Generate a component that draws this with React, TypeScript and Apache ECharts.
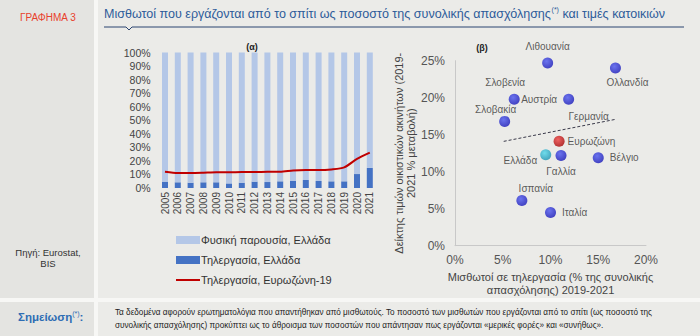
import React, { useEffect, useRef } from "react";
import * as echarts from "echarts";

const years = ["2005","2006","2007","2008","2009","2010","2011","2012","2013","2014","2015","2016","2017","2018","2019","2020","2021"];
const teleGreece = [4.7,4.2,3.9,4.2,4.2,3.4,3.9,4.7,4.4,4.9,5.4,5.9,5.2,4.9,4.9,10.3,14.8];
const physicalGreece = teleGreece.map((v) => +(100 - v).toFixed(1));
const teleEuro = [12.0,11.1,11.1,11.3,11.6,11.6,11.8,11.8,12.0,12.0,12.9,13.2,13.2,13.7,15.2,21.5,26.1];

const leftTicks = { min: 0, max: 100, interval: 10 };
const rightXTicks = { min: 0, max: 20, interval: 5 };
const rightYTicks = { min: 0, max: 25, interval: 5 };

// [telework %, house price change %, name, label position]
const countries: [number, number, string, string][] = [
  [9.7, 24.7, "Λιθουανία", "top"],
  [16.8, 24.0, "Ολλανδία", "bottom"],
  [6.2, 19.8, "Σλοβενία", "top"],
  [11.9, 19.8, "Αυστρία", "left"],
  [5.2, 16.8, "Σλοβακία", "top"],
  [15.0, 11.9, "Βέλγιο", "right"],
  [11.1, 12.2, "Γαλλία", "bottom"],
  [7.0, 6.1, "Ισπανία", "top"],
  [10.0, 4.5, "Ιταλία", "right"],
];
const hiddenLabel: [number, number, string][] = [[14.0, 17.5, "Γερμανία"]];
const eurozone: [number, number, string][] = [[10.9, 14.1, "Ευρωζώνη"]];
const greece: [number, number, string][] = [[9.5, 12.3, "Ελλάδα"]];
const trend: [number, number][] = [[5.1, 14.1], [16.9, 17.1]];

const FONT = "Liberation Sans, Arial, sans-serif";

const ball = (c1: string, c2: string) => ({
  type: "radial", x: 0.4, y: 0.35, r: 0.7,
  colorStops: [{ offset: 0, color: c1 }, { offset: 1, color: c2 }],
});

export default function App() {
  const ref = useRef<HTMLDivElement>(null);
  useEffect(() => {
    const chart = echarts.init(ref.current!, null, { renderer: "svg" });
    const lblOffset: Record<string, number[]> = {
      "Ολλανδία": [12, -2], "Σλοβενία": [-9, 0], "Σλοβακία": [-9, 5], "Ισπανία": [14, 4],
    };
    const option: any = {
      animation: false,
      backgroundColor: "transparent",
      textStyle: { fontFamily: FONT },
      graphic: [
        { type: "rect", shape: { x: 0, y: 0, width: 700, height: 336 }, style: { fill: "#f7f7f5" }, z: -10 },
        { type: "rect", shape: { x: 0, y: 0, width: 94, height: 298 }, style: { fill: "#e4e4e1" }, z: -9 },
        { type: "rect", shape: { x: 98, y: 0, width: 602, height: 298 }, style: { fill: "#ebebe8" }, z: -9 },
        { type: "rect", shape: { x: 0, y: 302, width: 94, height: 34 }, style: { fill: "#e4e4e1" }, z: -9 },
        { type: "rect", shape: { x: 98, y: 302, width: 602, height: 34 }, style: { fill: "#ebebe8" }, z: -9 },
        { type: "text", x: 20, y: 12, style: { text: "ΓΡΑΦΗΜΑ 3", fill: "#e8412c", font: "10px " + FONT } },
        {
          type: "text", x: 104, y: 5, scaleX: 0.93,
          style: {
            text: "{a|Μισθωτοί που εργάζονται από το σπίτι ως ποσοστό της συνολικής απασχόλησης}{s|(*)}{a| και τιμές κατοικιών}",
            rich: {
              a: { fontSize: 13.5, fontFamily: FONT, fill: "#2e5c9a", lineHeight: 17 },
              s: { fontSize: 7.5, fontFamily: FONT, fill: "#2e5c9a", verticalAlign: "top", lineHeight: 17 },
            },
          },
        },
        {
          type: "polyline",
          shape: { points: [[104, 27], [126, 27], [129, 30], [132, 27], [684, 27]] },
          style: { stroke: "#2b4470", lineWidth: 1, fill: null },
        },
        { type: "text", x: 252, y: 42, style: { text: "(α)", fill: "#222", font: "bold 9px " + FONT, textAlign: "center" } },
        { type: "text", x: 482, y: 43, style: { text: "(β)", fill: "#222", font: "bold 9px " + FONT, textAlign: "center" } },
        { type: "text", x: 48, y: 247, style: { text: "Πηγή: Eurostat,\nBIS", fill: "#333", font: "9.5px " + FONT, textAlign: "center", lineHeight: 11 } },
        {
          type: "text", x: 18, y: 310,
          style: {
            text: "{b|Σημείωση}{s|(*)}{b|:}",
            rich: {
              b: { fontSize: 11.5, fontWeight: "bold", fill: "#2e6db4", fontFamily: FONT, lineHeight: 14 },
              s: { fontSize: 7, fill: "#2e6db4", fontFamily: FONT, verticalAlign: "top", lineHeight: 14 },
            },
          },
        },
        {
          type: "text", x: 115, y: 305, scaleX: 0.88,
          style: {
            text: "Τα δεδομένα αφορούν ερωτηματολόγια που απαντήθηκαν από μισθωτούς. Το ποσοστό των μισθωτών που εργάζονται από το σπίτι (ως ποσοστό της\nσυνολικής απασχόλησης) προκύπτει ως το άθροισμα των ποσοστών που απάντησαν πως εργάζονται «μερικές φορές» και «συνήθως».",
            fill: "#222", font: "9.3px " + FONT, lineHeight: 13,
          },
        },
      ],
      legend: {
        orient: "vertical", left: 176, top: 233, padding: 0, itemWidth: 24, itemHeight: 8, itemGap: 6,
        textStyle: { fontSize: 11, color: "#333", fontFamily: FONT, lineHeight: 14, padding: [0, 0, 0, -4] },
        data: [
          { name: "Φυσική παρουσία, Ελλάδα", icon: "rect" },
          { name: "Τηλεργασία, Ελλάδα", icon: "rect" },
          { name: "Τηλεργασία, Ευρωζώνη-19", icon: "path://M0,0 L24,0 L24,2 L0,2 Z" },
        ],
      },
      grid: [
        { left: 158.6, top: 52.5, width: 217.6, height: 135.5 },
        { left: 455, top: 60.7, width: 191, height: 185 },
      ],
      xAxis: [
        {
          type: "category", gridIndex: 0, data: years,
          axisLine: { show: false }, axisTick: { show: false },
          axisLabel: { rotate: 90, fontSize: 10, color: "#444", margin: 4, interval: 0 },
        },
        {
          type: "value", gridIndex: 1, ...rightXTicks,
          axisLine: { show: true, lineStyle: { color: "#c8c8c8" } }, axisTick: { show: false },
          splitLine: { show: false },
          axisLabel: { formatter: "{value}%", fontSize: 12, color: "#555", margin: 8 },
          name: "Μισθωτοί σε τηλεργασία (% της συνολικής\nαπασχόλησης) 2019-2021",
          nameLocation: "middle", nameGap: 17,
          nameTextStyle: { fontSize: 11, color: "#444", lineHeight: 13 },
        },
      ],
      yAxis: [
        {
          type: "value", gridIndex: 0, ...leftTicks,
          axisLine: { show: false }, axisTick: { show: false }, splitLine: { show: false },
          axisLabel: { formatter: "{value}%", fontSize: 10.5, color: "#444", margin: 8 },
        },
        {
          type: "value", gridIndex: 1, ...rightYTicks,
          axisLine: { show: true, lineStyle: { color: "#c8c8c8" } }, axisTick: { show: false },
          splitLine: { show: false },
          axisLabel: { formatter: "{value}%", fontSize: 12, color: "#555", margin: 10 },
          name: "Δείκτης τιμών οικιστικών ακινήτων (2019-\n2021 % μεταβολή)",
          nameLocation: "middle", nameGap: 34,
          nameTextStyle: { fontSize: 11, color: "#444", lineHeight: 12 },
        },
      ],
      series: [
        {
          name: "Τηλεργασία, Ελλάδα", type: "bar", stack: "g", xAxisIndex: 0, yAxisIndex: 0,
          data: teleGreece, barWidth: 6, itemStyle: { color: "#4472c4" },
        },
        {
          name: "Φυσική παρουσία, Ελλάδα", type: "bar", stack: "g", xAxisIndex: 0, yAxisIndex: 0,
          data: physicalGreece, barWidth: 6, itemStyle: { color: "#b4c7e7" },
        },
        {
          name: "Τηλεργασία, Ευρωζώνη-19", type: "line", xAxisIndex: 0, yAxisIndex: 0,
          data: teleEuro, symbol: "none", smooth: 0.25,
          lineStyle: { color: "#c00000", width: 2 }, itemStyle: { color: "#c00000" },
        },
        {
          type: "line", xAxisIndex: 1, yAxisIndex: 1, data: trend, symbol: "none",
          lineStyle: { color: "#3a3a4a", width: 1, type: [3, 2] }, z: 1,
        },
        {
          type: "scatter", xAxisIndex: 1, yAxisIndex: 1, symbolSize: 11,
          itemStyle: { color: ball("#4a55f0", "#1515b5") },
          data: countries.map((c) => ({
            value: [c[0], c[1]], name: c[2],
            label: { show: true, position: c[3], formatter: c[2], offset: lblOffset[c[2]] || [0, 0] },
          })),
          label: { fontSize: 10, color: "#333", distance: 6 },
          z: 3,
        },
        {
          type: "scatter", xAxisIndex: 1, yAxisIndex: 1, symbolSize: 0,
          data: hiddenLabel.map((c) => ({ value: [c[0], c[1]], name: c[2] })),
          label: { show: true, position: "inside", formatter: "{b}", fontSize: 10, color: "#333" },
        },
        {
          type: "scatter", xAxisIndex: 1, yAxisIndex: 1, symbolSize: 11,
          itemStyle: { color: ball("#f04040", "#a00000") },
          data: eurozone.map((c) => ({ value: [c[0], c[1]], name: c[2] })),
          label: { show: true, position: "right", formatter: "{b}", fontSize: 10, color: "#333", distance: 3 },
          z: 3,
        },
        {
          type: "scatter", xAxisIndex: 1, yAxisIndex: 1, symbolSize: 11,
          itemStyle: { color: ball("#50d8ec", "#1890b0") },
          data: greece.map((c) => ({ value: [c[0], c[1]], name: c[2] })),
          label: { show: true, position: "left", formatter: "{b}", fontSize: 10, color: "#333", distance: 3, offset: [0, 6] },
          z: 3,
        },
      ],
    };
    chart.setOption(option);
    return () => chart.dispose();
  }, []);
  return <div ref={ref} style={{ position: "absolute", left: 0, top: 0, width: 700, height: 336 }} />;
}
